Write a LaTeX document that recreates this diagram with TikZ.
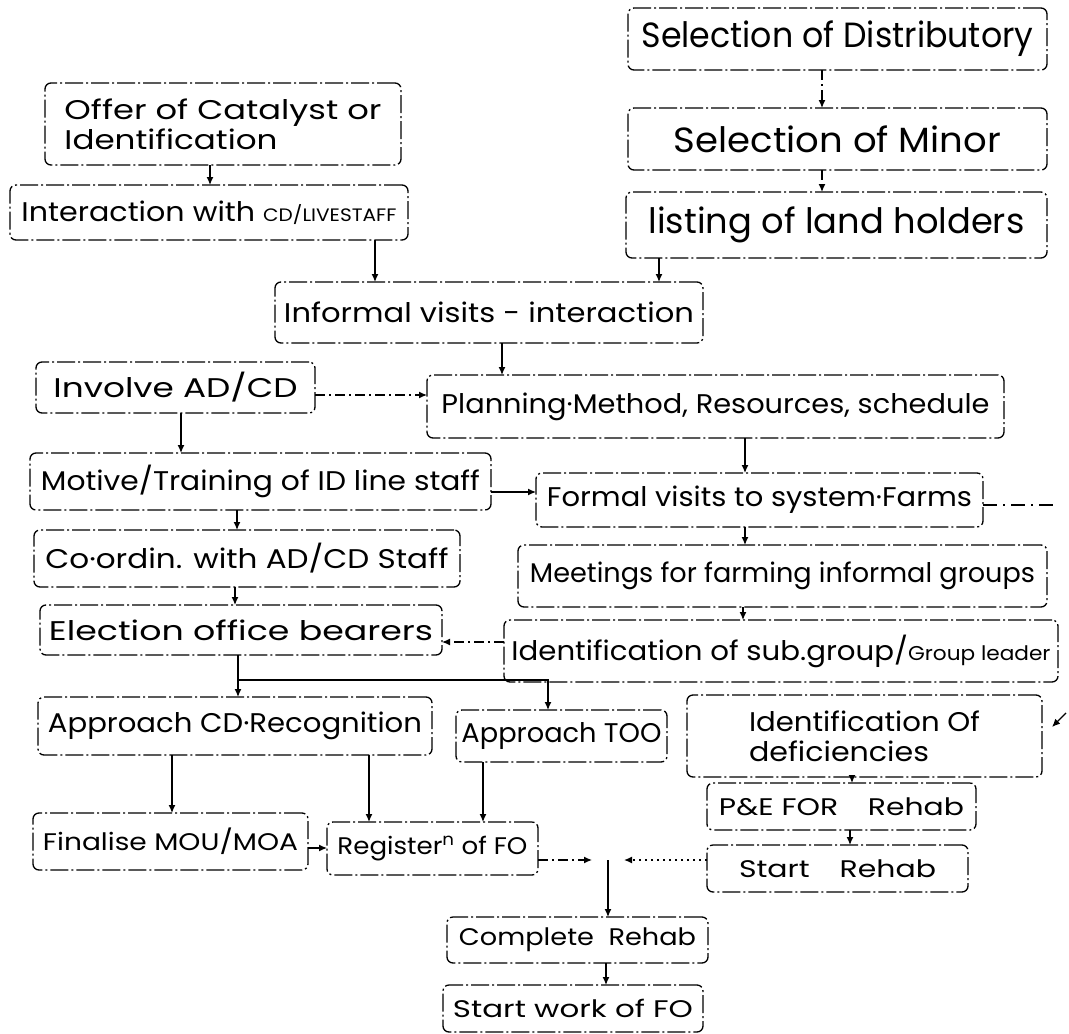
\documentclass[tikz,border=0pt]{standalone}
\usepackage{fontspec}
\usepackage{graphicx}
\setmainfont{Poppins}
\usetikzlibrary{arrows.meta}
\newcommand\tx[2]{\resizebox{#1}{\height}{#2}}
\tikzset{
 box/.style={draw, rounded corners=6pt, line width=1.3pt,
   dash pattern=on 18pt off 3pt on 2pt off 3pt,
   inner sep=0pt, outer sep=0pt, font=\fontsize{27}{32}\selectfont},
 big/.style={font=\fontsize{35}{38}\selectfont},
 mid/.style={font=\fontsize{27}{30}\selectfont},
 sml/.style={font=\fontsize{24}{28}\selectfont},
 conn/.style={line width=1.3pt, -{Latex[length=8pt,width=7pt]}},
 dconn/.style={conn, dash pattern=on 10pt off 4pt on 2pt off 4pt},
 dotconn/.style={conn, dash pattern=on 2pt off 4pt},
}
\begin{document}
\begin{tikzpicture}[x=1pt,y=-1pt]
\useasboundingbox (0,0) rectangle (1069,1034);
% boxes
\node[box,big,minimum width=419pt,minimum height=62pt] (dist) at (837.5,39) {\tx{392pt}{Selection of Distributory}};
\node[box,big,minimum width=419pt,minimum height=62pt] (minor) at (837.5,139) {\tx{327pt}{Selection of Minor}};
\node[box,big,minimum width=421pt,minimum height=66pt] (listing) at (836.5,225) {\tx{376pt}{listing of land holders}};
\node[box,mid,minimum width=356pt,minimum height=82pt,align=left] (offer) at (223,124) {\tx{317pt}{Offer of Catalyst or}\\\tx{213pt}{Identification}};
\node[box,mid,minimum width=398pt,minimum height=55pt] (inter) at (209,212.5) {\tx{375pt}{Interaction with {\fontsize{18}{20}\selectfont CD/LIVESTAFF}}};
\node[box,minimum width=428pt,minimum height=61pt] (informal) at (489,312.5) {\tx{410pt}{Informal visits - interaction}};
\node[box,minimum width=279pt,minimum height=51pt] (involve) at (175.5,387.5) {\tx{244pt}{Involve AD/CD}};
\node[box,minimum width=577pt,minimum height=63pt] (planning) at (715.5,406.5) {\tx{548pt}{Planning·Method, Resources, schedule}};
\node[box,minimum width=461pt,minimum height=57pt] (motive) at (260.5,481.5) {\tx{439pt}{Motive/Training of ID line staff}};
\node[box,minimum width=447pt,minimum height=54pt] (formal) at (759.5,500) {\tx{425pt}{Formal visits to system·Farms}};
\node[box,minimum width=426pt,minimum height=57pt] (coord) at (247,558.5) {\tx{403pt}{Co·ordin. with AD/CD Staff}};
\node[box,minimum width=529pt,minimum height=62pt] (meet) at (782.5,576) {\tx{505pt}{Meetings for farming informal groups}};
\node[box,minimum width=402pt,minimum height=50pt] (elect) at (241,630) {\tx{384pt}{Election office bearers}};
\node[box,minimum width=554pt,minimum height=62pt] (group) at (781,651) {\tx{539pt}{Identification of sub.group/{\fontsize{20}{22}\selectfont Group leader}}};
\node[box,minimum width=394pt,minimum height=58pt] (apcd) at (235,726) {\tx{374pt}{Approach CD·Recognition}};
\node[box,minimum width=211pt,minimum height=52pt] (aptoo) at (561.5,736) {\tx{200pt}{Approach TOO}};
\node[box,mid,minimum width=355pt,minimum height=82pt,align=left] (defic) at (864.5,736) {\tx{231pt}{Identification Of}\\\tx{180pt}{deficiencies}};
\node[box,sml,minimum width=269pt,minimum height=47pt] (pe) at (841.5,806.5) {\tx{245pt}{P\&E FOR\quad Rehab}};
\node[box,sml,minimum width=261pt,minimum height=47pt] (srehab) at (837.5,868.5) {\tx{197pt}{Start\quad Rehab}\hspace{42pt}};
\node[box,sml,minimum width=275pt,minimum height=57pt] (final) at (170.5,841.5) {\tx{255pt}{Finalise MOU/MOA}};
\node[box,sml,minimum width=211pt,minimum height=53pt] (reg) at (432.5,848.5) {\tx{190pt}{Register\textsuperscript{n} of FO}};
\node[box,sml,minimum width=261pt,minimum height=46pt] (comp) at (577.5,940) {\tx{237pt}{Complete\ \ Rehab}};
\node[box,sml,minimum width=260pt,minimum height=47pt] (swork) at (573,1008.5) {\tx{240pt}{Start work of FO}};
% helper coordinates
\coordinate (fork) at (238,680);
\coordinate (jn) at (608,860);
\coordinate (jl) at (592,860);
\coordinate (jr) at (624,860);
\coordinate (fend) at (1057,505);
\coordinate (xa) at (1066,713);
\coordinate (xb) at (1052,727);
% connectors
\draw[dconn] (dist.south -| 822,0) -- (minor.north -| 822,0);
\draw[dconn] (minor.south -| 822,0) -- (listing.north -| 822,0);
\draw[conn] (offer.south -| 210,0) -- (inter.north -| 210,0);
\draw[conn] (inter.south -| 375,0) -- (informal.north -| 375,0);
\draw[conn] (listing.south -| 659,0) -- (informal.north -| 659,0);
\draw[conn] (informal.south -| 502,0) -- (planning.north -| 502,0);
\draw[dconn] (involve.east |- 0,395) -- (planning.west |- 0,395);
\draw[conn] (involve.south -| 181,0) -- (motive.north -| 181,0);
\draw[conn] (planning.south -| 745,0) -- (formal.north -| 745,0);
\draw[conn] (motive.east |- 0,492) -- (formal.west |- 0,492);
\draw[conn] (motive.south -| 237,0) -- (coord.north -| 237,0);
\draw[line width=1.3pt, dash pattern=on 14pt off 6pt on 2pt off 6pt] (formal.east |- fend) -- (fend);
\draw[conn] (formal.south -| 745,0) -- (meet.north -| 745,0);
\draw[conn] (coord.south -| 235,0) -- (elect.north -| 235,0);
\draw[conn] (meet.south -| 743,0) -- (group.north -| 743,0);
\draw[dconn] (group.west |- 0,642) -- (elect.east |- 0,642);
\draw[line width=1.3pt] (elect.south -| fork) -- (fork);
\draw[conn] (fork) -- (apcd.north -| fork);
\draw[conn] (fork) -- (548,680) -- (aptoo.north -| 548,0);
\draw[conn] (apcd.south -| 172,0) -- (final.north -| 172,0);
\draw[conn] (apcd.south -| 369,0) -- (reg.north -| 369,0);
\draw[conn] (aptoo.south -| 483,0) -- (reg.north -| 483,0);
\draw[conn] (final.east |- 0,848) -- (reg.west |- 0,848);
\draw[dconn] (reg.east |- jn) -- (jl);
\draw[dotconn] (srehab.west |- jn) -- (jr);
\draw[conn] (jn) -- (comp.north -| jn);
\draw[conn] (defic.south -| 852,0) -- (pe.north -| 852,0);
\draw[conn] (pe.south -| 850,0) -- (srehab.north -| 850,0);
\draw[conn] (comp.south -| 606,0) -- (swork.north -| 606,0);
\draw[conn] (xa) -- (xb);
\end{tikzpicture}
\end{document}
